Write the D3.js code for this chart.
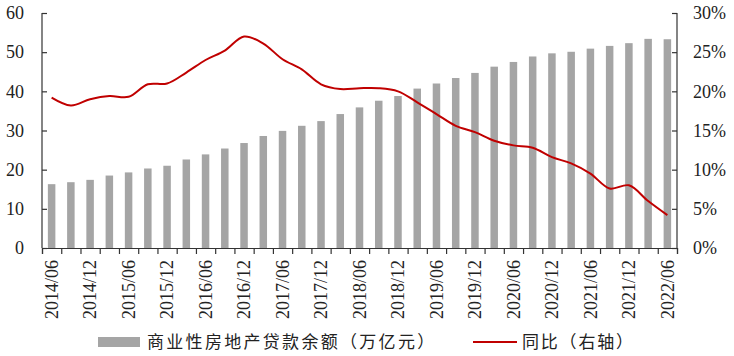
<!DOCTYPE html>
<html>
<head>
<meta charset="utf-8">
<script src="https://cdn.jsdelivr.net/npm/d3@7"></script>
<style>
  body { margin: 0; background: #fff; }
  text { font-family: "Liberation Serif", "Times New Roman", "DejaVu Serif", serif; fill: #222; }
</style>
</head>
<body>
<div id="chart"></div>
<script>
var width = 734;
var height = 356;

// quarter ends
var quarters = ["2014/06","2014/09","2014/12","2015/03","2015/06","2015/09","2015/12","2016/03",
  "2016/06","2016/09","2016/12","2017/03","2017/06","2017/09","2017/12","2018/03",
  "2018/06","2018/09","2018/12","2019/03","2019/06","2019/09","2019/12","2020/03",
  "2020/06","2020/09","2020/12","2021/03","2021/06","2021/09","2021/12","2022/03","2022/06"];

// 商业性房地产贷款余额 (万亿元)
var balance = [16.3,16.8,17.4,18.5,19.3,20.3,21.0,22.6,23.9,25.4,26.8,28.6,29.9,31.2,32.4,34.2,
  35.9,37.6,38.8,40.7,42.0,43.4,44.7,46.3,47.5,48.9,49.7,50.1,50.9,51.6,52.3,53.4,53.3];

// 同比 (%)
var yoy = [19.2,18.2,19.0,19.4,19.3,20.9,21.0,22.4,24.0,25.2,27.0,26.1,24.1,22.8,20.9,20.3,
  20.4,20.4,20.0,18.6,17.1,15.6,14.8,13.7,13.1,12.8,11.6,10.8,9.5,7.6,8.0,6.0,4.2];

var leftTicks = [0,10,20,30,40,50,60];
var rightTicks = [0,5,10,15,20,25,30];

var serif = "'Liberation Serif', 'Times New Roman', 'DejaVu Serif', serif";
var cjk = "'Noto Sans CJK SC', sans-serif";

var margin = {left: 42, right: 57, top: 13, bottom: 108};
var plotW = width - margin.left - margin.right;
var plotH = height - margin.top - margin.bottom;

var svg = d3.select("#chart").append("svg")
  .attr("width", width)
  .attr("height", height);

var g = svg.append("g")
  .attr("transform", "translate(" + margin.left + "," + margin.top + ")");

var x = d3.scaleBand()
  .domain(quarters)
  .range([0, plotW])
  .padding(0);

var xIdx = d3.scaleLinear()
  .domain([0, quarters.length])
  .range([0, plotW]);

var yL = d3.scaleLinear().domain([0, 60]).range([plotH, 0]);
var yR = d3.scaleLinear().domain([0, 30]).range([plotH, 0]);

// bars
var barW = x.bandwidth() * 0.39;
g.append("g").selectAll("rect")
  .data(balance)
  .enter().append("rect")
    .attr("x", function(d, i) { return x(quarters[i]) + (x.bandwidth() - barW) / 2; })
    .attr("y", function(d) { return yL(d); })
    .attr("width", barW)
    .attr("height", function(d) { return yL(0) - yL(d); })
    .attr("fill", "#a5a5a5");

// line
var line = d3.line()
  .x(function(d, i) { return x(quarters[i]) + x.bandwidth() / 2; })
  .y(function(d) { return yR(d); })
  .curve(d3.curveCatmullRom.alpha(0.5));

g.append("path")
  .datum(yoy)
  .attr("d", line)
  .attr("fill", "none")
  .attr("stroke", "#c00000")
  .attr("stroke-width", 2);

// axes
var axisColor = "#333";

var leftAxis = g.append("g")
  .call(d3.axisLeft(yL).tickValues(leftTicks).tickSize(-5).tickPadding(18));
var rightAxis = g.append("g")
  .attr("transform", "translate(" + plotW + ",0)")
  .call(d3.axisRight(yR).tickValues(rightTicks).tickSize(-5).tickPadding(16)
    .tickFormat(function(d) { return d + "%"; }));
var bottomAxis = g.append("g")
  .attr("transform", "translate(0," + plotH + ")")
  .call(d3.axisBottom(xIdx).tickValues(d3.range(quarters.length + 1)).tickSize(6).tickFormat(""));

[leftAxis, rightAxis, bottomAxis].forEach(function(a) {
  a.attr("font-family", serif);
  a.select(".domain").attr("stroke", axisColor).attr("stroke-width", 1.2);
  a.selectAll(".tick line").attr("stroke", axisColor).attr("stroke-width", 1.2);
  a.selectAll("text").attr("font-size", 18).attr("fill", "#222")
    .style("font-family", serif);
});
leftAxis.select(".domain").attr("d", "M0," + plotH + "V0");
rightAxis.select(".domain").attr("d", "M0," + plotH + "V0");

// x labels, every half year
g.append("g").selectAll("text")
  .data(quarters.filter(function(d, i) { return i % 2 === 0; }))
  .enter().append("text")
    .attr("transform", function(d) {
      return "translate(" + (x(d) + x.bandwidth() / 2) + "," + (plotH + 12) + ") rotate(-90)";
    })
    .attr("text-anchor", "end")
    .attr("dy", "0.34em")
    .attr("font-size", 18)
    .style("font-family", serif)
    .text(function(d) { return d; });

// legend
var legend = svg.append("g").attr("transform", "translate(0,342)");
legend.append("rect")
  .attr("x", 98).attr("y", -5)
  .attr("width", 42).attr("height", 10)
  .attr("fill", "#a5a5a5");
legend.append("text")
  .attr("x", 147).attr("dy", "0.36em")
  .attr("font-size", 17)
  .style("font-family", cjk)
  .style("letter-spacing", "2.3px")
  .text("商业性房地产贷款余额（万亿元）");
legend.append("line")
  .attr("x1", 473).attr("x2", 517)
  .attr("y1", 0).attr("y2", 0)
  .attr("stroke", "#c00000")
  .attr("stroke-width", 2);
legend.append("text")
  .attr("x", 522).attr("dy", "0.36em")
  .attr("font-size", 17)
  .style("font-family", cjk)
  .style("letter-spacing", "1.8px")
  .text("同比（右轴）");
</script>
</body>
</html>
